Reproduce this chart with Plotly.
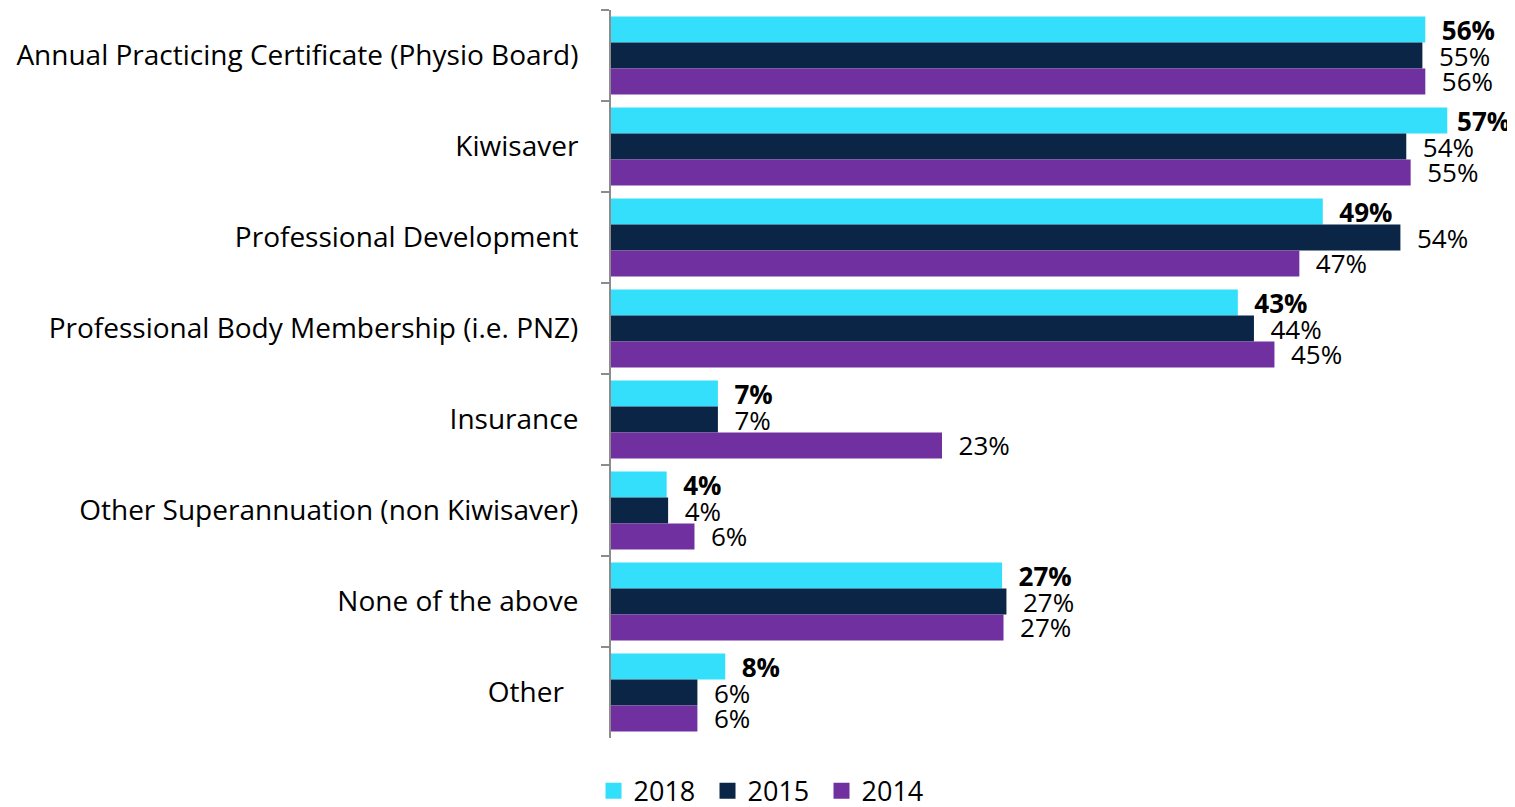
import plotly.graph_objects as go

categories = [
    "Annual Practicing Certificate (Physio Board)",
    "Kiwisaver",
    "Professional Development",
    "Professional Body Membership (i.e. PNZ)",
    "Insurance",
    "Other Superannuation (non Kiwisaver)",
    "None of the above",
    "Other\u00a0\u00a0",
]
v2018 = [55.6, 57.1, 48.6, 42.8, 7.3, 3.8, 26.7, 7.8]
v2015 = [55.4, 54.3, 53.9, 43.9, 7.3, 3.9, 27.0, 5.9]
v2014 = [55.6, 54.6, 47.0, 45.3, 22.6, 5.7, 26.8, 5.9]

series = [
    ("2018", v2018, "#33DFFA", True),
    ("2015", v2015, "#0B2547", False),
    ("2014", v2014, "#7030A0", False),
]

FONT = "Open Sans"
XMAX = 60.7
fig = go.Figure()
for name, vals, color, bold in series:
    texts = []
    for v in vals:
        t = f"{int(v + 0.5)}%"
        # labels near the right edge get a tighter gap so they stay inside the chart
        pad = "\u00a0" if v > 57 else "\u00a0\u00a0"
        texts.append(pad + (f"<b>{t}</b>" if bold else t))
    fig.add_trace(go.Bar(
        name=name, y=categories, x=vals, orientation="h",
        marker=dict(color=color, line=dict(width=0)),
        text=texts, textposition="outside", cliponaxis=False,
        constraintext="none", showlegend=False,
        textfont=dict(family=FONT, size=26, color="#000000"),
    ))

# legend entries with larger square swatches
for name, vals, color, bold in series:
    fig.add_trace(go.Scatter(
        name=name, x=[None], y=[None], mode="markers",
        marker=dict(symbol="square", size=18, color=color),
        showlegend=True,
    ))

fig.update_layout(
    width=1507, height=799,
    margin=dict(l=603, r=15, t=2, b=69, autoexpand=False),
    paper_bgcolor="white", plot_bgcolor="white",
    barmode="group", bargap=0.143, bargroupgap=0,
    font=dict(family=FONT, size=28, color="#000000"),
    xaxis=dict(range=[0, XMAX], visible=False, showgrid=False, zeroline=False),
    yaxis=dict(
        autorange="reversed", showgrid=False, zeroline=False, automargin=False,
        showline=True, linecolor="#8c8c8c", linewidth=2,
        ticks="outside", tickson="boundaries", ticklen=8, tickcolor="#8c8c8c", tickwidth=2,
        ticklabelstandoff=25,
        tickfont=dict(family=FONT, size=28, color="#000000"),
    ),
    showlegend=True,
    legend=dict(
        orientation="h", xref="container", x=0.502, xanchor="center",
        yref="paper", y=-0.073, yanchor="middle",
        font=dict(family=FONT, size=27, color="#000000"),
        traceorder="normal", itemwidth=30,
        entrywidth=69, entrywidthmode="pixels",
    ),
)

fig.write_html("out.html")
